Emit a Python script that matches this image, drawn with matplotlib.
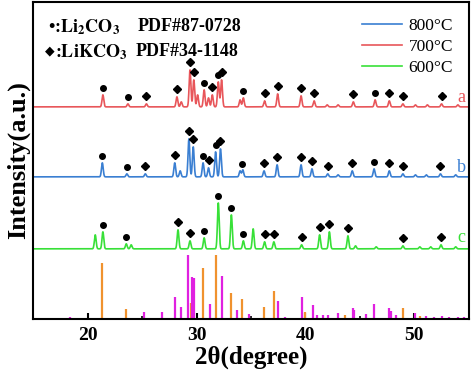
import matplotlib
matplotlib.use("Agg")
import matplotlib.pyplot as plt
import numpy as np

plt.rcParams['font.family'] = ['Liberation Serif', 'DejaVu Sans']
plt.rcParams['mathtext.fontset'] = 'stix'

# peak positions (deg) and heights for each pattern
pk_a = [21.4, 23.7, 25.4, 28.2, 28.6, 29.4, 29.75, 30.1, 30.7, 31.1, 31.45, 32.0, 32.3,
        34.0, 34.3, 36.25, 37.45, 39.6, 40.8, 42.0, 43.0, 44.4, 46.4, 47.7, 48.95, 50.1, 51.2, 52.5, 54.0]
h_a = [12, 3, 3, 10, 5, 37, 27, 12, 17, 9, 12, 25, 27,
       7, 9, 6, 13, 11, 6, 2, 2, 5, 7, 6, 3, 2, 2, 3, 2]

pk_b = [21.35, 23.6, 25.3, 28.0, 28.5, 29.3, 29.7, 30.6, 31.1, 31.75, 32.2,
        34.0, 34.25, 36.2, 37.4, 39.6, 40.6, 42.05, 43.0, 44.3, 46.3, 47.7, 48.95, 50.1, 51.1, 52.4, 53.8]
h_b = [14, 3, 3, 14, 6, 38, 30, 14, 9, 25, 28,
       6, 7, 6, 12, 12, 8, 3, 2, 6, 8, 6, 3, 2, 2, 3, 2]

pk_c = [20.7, 21.4, 23.55, 24.0, 28.3, 29.4, 30.7, 32.0, 33.2, 34.3, 35.2, 36.25, 37.1,
        39.65, 41.3, 42.2, 43.9, 44.6, 46.5, 48.95, 50.5, 51.5, 52.45, 53.8]
h_c = [14, 17, 5, 4, 19, 8, 11, 46, 34, 8, 20, 7, 7,
       4, 14, 17, 13, 3, 2, 3, 2, 2, 4, 2]

# phase markers on each pattern
circ_a = [21.4, 23.7, 30.7, 32.0, 34.3, 46.4]
diam_a = [25.4, 28.2, 29.4, 29.75, 31.45, 32.3, 36.25, 37.45, 39.6, 40.8, 44.4, 47.7, 48.95, 52.5]
circ_b = [21.35, 23.6, 30.6, 31.75, 34.2, 46.3]
diam_b = [25.3, 28.0, 29.3, 29.7, 31.1, 32.2, 36.2, 37.4, 39.6, 40.6, 42.05, 44.3, 47.7, 48.95, 52.4]
circ_c = [21.4, 23.55, 30.7, 32.0, 33.2, 34.3]
diam_c = [28.3, 29.4, 36.25, 37.1, 39.65, 41.3, 42.2, 43.9, 48.95, 52.45]

# standard cards: Li2CO3 (orange) and LiKCO3 (magenta)
card1_pos = [21.35, 23.55, 29.5, 30.6, 31.8, 33.2, 34.2, 36.15, 37.1, 40.0, 43.6, 48.95, 50.5]
card1_h = [55, 9, 15, 50, 63, 25, 19, 11, 27, 6, 3, 10, 2]
card2_pos = [18.4, 25.2, 26.8, 28.06, 28.6, 29.26, 29.6, 29.8, 31.2, 32.3, 33.75, 34.8, 37.45, 38.1,
             39.65, 40.7, 41.1, 41.6, 42.1, 43.0, 44.35, 44.45, 45.6, 46.3, 47.7, 47.9, 48.3,
             50.05, 51.06, 51.8, 52.5, 53.2, 54.0, 54.6]
card2_h = [1, 6, 6, 21, 11, 63, 41, 40, 14, 42, 8, 4, 17, 1,
           21, 13, 3, 3, 3, 5, 10, 8, 4, 14, 10, 7, 3,
           5, 2, 1, 2, 1, 1, 1]

offsets = {'a': 212, 'b': 142, 'c': 70}
colors = {'a': '#e8565a', 'b': '#3a7fd2', 'c': '#38e038'}
labels = {'a': '700°C', 'b': '800°C', 'c': '600°C'}

x = np.linspace(15, 55, 3000)


def profile(pk, h, base):
    y = np.full_like(x, base, dtype=float)
    for p, hh in zip(pk, h):
        y += hh * np.exp(-(x - p) ** 2 / (2 * 0.08 ** 2))
    return y


fig = plt.figure(figsize=(4.74, 3.80), dpi=100)
ax = fig.add_axes([0.070, 0.161, 0.919, 0.834])

curves = {}
for key, pk, h in [('b', pk_b, h_b), ('a', pk_a, h_a), ('c', pk_c, h_c)]:
    curves[key] = profile(pk, h, offsets[key])
    ax.plot(x, curves[key], color=colors[key], lw=1.2, label=labels[key])

for key, circ, diam in [('a', circ_a, diam_a), ('b', circ_b, diam_b), ('c', circ_c, diam_c)]:
    cy = np.interp(circ, x, curves[key]) + 7
    dy = np.interp(diam, x, curves[key]) + 8
    ax.plot(circ, cy, 'o', color='black', ms=4, ls='none')
    ax.plot(diam, dy, 'D', color='black', ms=4, ls='none')

ax.vlines(card1_pos, 1, np.array(card1_h) + 1, color='#f0922e', lw=1.6)
ax.vlines(card2_pos, 1, np.array(card2_h) + 1, color='#e020e0', lw=1.6)

for key, yy in [('a', 221), ('b', 151), ('c', 81)]:
    ax.text(54.3, yy, key, color=colors[key], fontsize=13, ha='center', va='center')

ax.text(16.4, 292, "•:$\\mathbf{Li_2CO_3}$", fontsize=13, fontweight='bold', va='center')
ax.text(16.05, 268, "◆", fontsize=9, family='DejaVu Sans', va='center')
ax.text(17.0, 267, ":$\\mathbf{LiKCO_3}$", fontsize=13, fontweight='bold', va='center')
ax.text(24.6, 292, "PDF#87-0728", fontsize=13, fontweight='bold', va='center')
ax.text(24.4, 267, "PDF#34-1148", fontsize=13, fontweight='bold', va='center')

ax.set_xlim(15, 55)
ax.set_ylim(0, 317)
ax.set_xticks([20, 30, 40, 50])
ax.set_xticks([25, 35, 45], minor=True)
ax.set_yticks([])
ax.tick_params(axis='x', which='major', direction='in', length=4, width=1.5, labelsize=14, pad=6)
ax.tick_params(axis='x', which='minor', direction='in', length=2, width=1.2)
for lab in ax.get_xticklabels():
    lab.set_fontweight('bold')
for s in ax.spines.values():
    s.set_linewidth(1.5)

ax.set_xlabel("2θ(degree)", fontsize=18, fontweight='bold', labelpad=1)
ax.set_ylabel("Intensity(a.u.)", fontsize=19, fontweight='bold', labelpad=2)

h, l = ax.get_legend_handles_labels()
order = [labels['b'], labels['a'], labels['c']]
hd = dict(zip(l, h))
ax.legend([hd[o] for o in order], order, loc='upper right', frameon=False, fontsize=12.5,
          handlelength=2.3, labelspacing=0.3, handletextpad=0.4,
          bbox_to_anchor=(1.0, 1.0))

plt.savefig("out.png", dpi=100)
